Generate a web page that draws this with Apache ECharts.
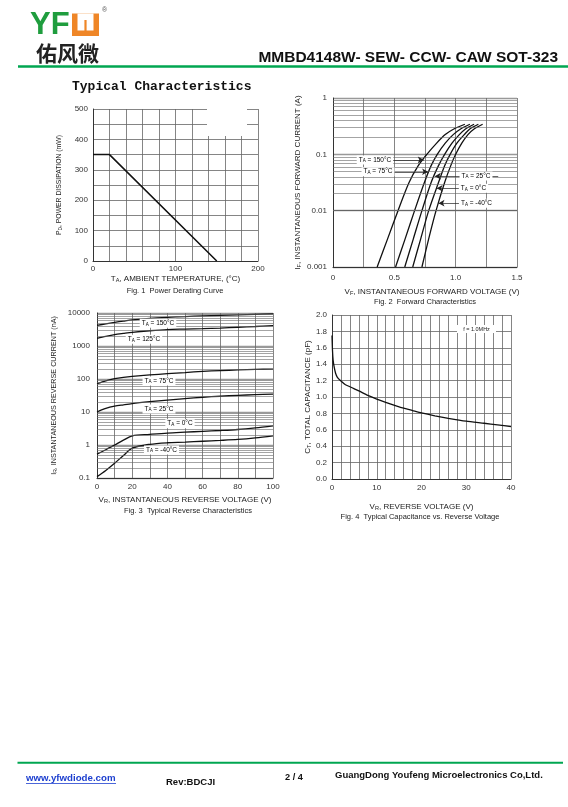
<!DOCTYPE html>
<html>
<head>
<meta charset="utf-8">
<script src="https://cdn.jsdelivr.net/npm/echarts@6/dist/echarts.min.js"></script>
<style>
  html, body { margin: 0; padding: 0; background: #fff; }
  #main { width: 568px; height: 807px; }
</style>
</head>
<body>
<div id="main"></div>
<script>
// Fig. 1 power derating curve
const derateTemp = [0, 20, 150];
const deratePower = [350, 350, 0];

// Fig. 2 forward characteristics: IF (A) levels and VF (V) read for each temperature
const fwdCurrent = [0.001, 0.00316, 0.01, 0.0316, 0.063, 0.1, 0.158, 0.224, 0.282, 0.342];
const fwdV150 = [0.36, 0.445, 0.53, 0.62, 0.695, 0.765, 0.845, 0.915, 0.985, 1.075];
const fwdV75 = [0.51, 0.588, 0.665, 0.745, 0.80, 0.85, 0.915, 0.98, 1.04, 1.116];
const fwdV25 = [0.585, 0.655, 0.725, 0.80, 0.86, 0.91, 0.97, 1.03, 1.08, 1.15];
const fwdV0 = [0.65, 0.715, 0.78, 0.86, 0.91, 0.955, 1.01, 1.07, 1.115, 1.185];
const fwdVM40 = [0.725, 0.78, 0.84, 0.91, 0.96, 1.0, 1.05, 1.10, 1.15, 1.22];
// label arrows: [from VF, to VF, IF]
const fwdArrows = [[0.474, 0.74, 0.08], [0.465, 0.775, 0.049], [1.347, 0.83, 0.041], [1.05, 0.845, 0.025], [1.05, 0.86, 0.0136]];

// Fig. 3 reverse characteristics, IR (nA) at each VR
const revVoltage = [0, 5, 10, 15, 20, 30, 40, 50, 60, 70, 80, 90, 100];
const rev150 = [4200, 4700, 5200, 5700, 6200, 6900, 7400, 7800, 8200, 8500, 8800, 9100, 9400];
const rev125 = [1700, 1950, 2200, 2400, 2600, 2900, 3150, 3250, 3350, 3500, 3700, 3900, 4150];
const rev75 = [72, 88, 102, 112, 120, 133, 145, 157, 170, 180, 188, 195, 200];
const rev25 = [10, 12.8, 15, 16.5, 18, 20.5, 23, 25.5, 28, 30, 32, 33.5, 35];
const rev0 = [0.53, 0.72, 1.0, 1.4, 1.9, 2.1, 2.3, 2.45, 2.6, 2.75, 2.95, 3.3, 3.8];
const revM40 = [0.11, 0.17, 0.28, 0.48, 0.8, 1.05, 1.17, 1.22, 1.3, 1.38, 1.48, 1.65, 1.9];

// Fig. 4 capacitance vs reverse voltage
const capVoltage = [0, 0.1, 0.25, 0.5, 0.8, 1.2, 2, 3, 4, 5, 6, 8, 10, 12, 15, 18, 20, 23, 26, 30, 34, 37, 40];
const capValue = [1.75, 1.58, 1.45, 1.36, 1.29, 1.24, 1.195, 1.15, 1.125, 1.10, 1.075, 1.02, 0.975, 0.935, 0.88, 0.835, 0.805, 0.77, 0.74, 0.705, 0.68, 0.66, 0.64];

const FONT = 'Liberation Sans';
const mkRich = size => ({
  n: { fontSize: size, fontFamily: FONT, color: '#222' },
  s: { fontSize: size * 0.7, fontFamily: FONT, color: '#222', verticalAlign: 'bottom' }
});
const rich = mkRich(8);
const richSmall = mkRich(6.5);
const sub = (a, b, c) => `{n|${a}}{s|${b}}{n|${c}}`;

// minor log grid lines
const mults = [2, 3, 4, 5, 6, 7, 8, 9];
const fwdMinor = [0.001, 0.01, 0.1].flatMap(d => mults.map(k => +(k * d).toPrecision(2)));
const revMinor = [0.1, 1, 10, 100, 1000].flatMap(d => mults.map(k => +(k * d).toPrecision(2)));

const chart = echarts.init(document.getElementById('main'));

function axisBase(extra) {
  return Object.assign({
    type: 'value',
    axisLine: { show: true, lineStyle: { color: '#333', width: 1 } },
    axisTick: { show: false },
    splitLine: { show: true, lineStyle: { color: '#666', width: 0.8 } },
    axisLabel: { fontSize: 8, fontFamily: FONT, color: '#333' },
    nameLocation: 'middle',
    nameTextStyle: { rich: rich }
  }, extra);
}

function curve(data, idx, extra) {
  return Object.assign({
    type: 'line', data: data, xAxisIndex: idx, yAxisIndex: idx,
    symbol: 'none', smooth: 0.3, silent: true,
    lineStyle: { color: '#111', width: 1.3 }
  }, extra);
}

function minorLines(values) {
  return {
    silent: true, symbol: ['none', 'none'], animation: false,
    label: { show: false },
    lineStyle: { color: '#666', width: 0.6, type: 'solid' },
    data: values.map(v => ({ yAxis: v }))
  };
}

function arrowLines(a) {
  return {
    silent: true, animation: false, symbol: ['none', 'arrow'], symbolSize: [5, 6],
    label: { show: false },
    lineStyle: { color: '#222', width: 0.7, type: 'solid' },
    data: [[{ coord: [a[0], a[2]] }, { coord: [a[1], a[2]] }]]
  };
}

function tag(x, y, a, b, c) {
  return {
    type: 'text', x: x, y: y, z: 100,
    style: {
      text: sub(a, b, c), rich: richSmall, align: 'center', verticalAlign: 'middle',
      backgroundColor: '#fff', padding: [1, 2]
    }
  };
}

function txt(x, y, text, font, fill, align) {
  return {
    type: 'text', x: x, y: y, z: 100,
    style: { text: text, font: font, fill: fill || '#111', align: align || 'left', verticalAlign: 'middle' }
  };
}

const logLabel = v => String(+Number(v).toPrecision(1));
const fwdPts = vs => vs.map((v, i) => [v, fwdCurrent[i]]);
const revPts = vals => revVoltage.map((v, i) => [v, vals[i]]);

const option = {
  animation: false,
  grid: [
    { left: 93, top: 109, width: 165, height: 152 },
    { left: 333, top: 98, width: 184, height: 169 },
    { left: 97, top: 313, width: 176, height: 165 },
    { left: 332, top: 315, width: 179, height: 164 }
  ],
  xAxis: [
    axisBase({ gridIndex: 0, min: 0, max: 200, interval: 20, nameGap: 14,
      name: sub('T', 'A', ', AMBIENT TEMPERATURE, (°C)'),
      axisLabel: { fontSize: 8, fontFamily: FONT, color: '#333', margin: 4, formatter: v => v % 100 === 0 ? String(v) : '' } }),
    axisBase({ gridIndex: 1, min: 0, max: 1.5, interval: 0.25, nameGap: 21,
      name: sub('V', 'F', ', INSTANTANEOUS FORWARD VOLTAGE (V)'),
      nameTextStyle: { rich: rich, padding: [0, 0, 0, 14] },
      axisLabel: { fontSize: 8, fontFamily: FONT, color: '#333', margin: 7,
        formatter: v => (Math.abs(v * 2 - Math.round(v * 2)) < 1e-6) ? (v === 0 ? '0' : v.toFixed(1)) : '' } }),
    axisBase({ gridIndex: 2, min: 0, max: 100, interval: 10, nameGap: 18,
      name: sub('V', 'R', ', INSTANTANEOUS REVERSE VOLTAGE (V)'),
      axisLabel: { fontSize: 8, fontFamily: FONT, color: '#333', margin: 5, formatter: v => v % 20 === 0 ? String(v) : '' } }),
    axisBase({ gridIndex: 3, min: 0, max: 40, interval: 2, nameGap: 24,
      name: sub('V', 'R', ', REVERSE VOLTAGE (V)'),
      axisLabel: { fontSize: 8, fontFamily: FONT, color: '#333', margin: 5, formatter: v => v % 10 === 0 ? String(v) : '' } })
  ],
  yAxis: [
    axisBase({ gridIndex: 0, min: 0, max: 500, interval: 50, nameGap: 30,
      name: sub('P', 'D', ', POWER DISSIPATION (mW)'),
      nameTextStyle: { rich: mkRich(6.8) },
      axisLabel: { fontSize: 8, fontFamily: FONT, color: '#333', margin: 5, formatter: v => v % 100 === 0 ? String(v) : '' } }),
    axisBase({ type: 'log', logBase: 10, gridIndex: 1, min: 0.001, max: 1, nameGap: 31,
      name: sub('I', 'F', ', INSTANTANEOUS FORWARD CURRENT (A)'),
      splitLine: { show: true, lineStyle: { color: '#999', width: 1.4 } },
      axisLabel: { fontSize: 8, fontFamily: FONT, color: '#333', margin: 6, formatter: logLabel } }),
    axisBase({ type: 'log', logBase: 10, gridIndex: 2, min: 0.1, max: 10000, nameGap: 39,
      name: sub('I', 'R', ', INSTANTANEOUS REVERSE CURRENT (nA)'),
      nameTextStyle: { rich: mkRich(7.2) },
      splitLine: { show: true, lineStyle: { color: '#999', width: 1.4 } },
      axisLabel: { fontSize: 8, fontFamily: FONT, color: '#333', margin: 7, formatter: logLabel } }),
    axisBase({ gridIndex: 3, min: 0, max: 2, interval: 0.2, nameGap: 20,
      name: sub('C', 'T', ', TOTAL CAPACITANCE (pF)'),
      axisLabel: { fontSize: 8, fontFamily: FONT, color: '#333', margin: 5, formatter: v => v.toFixed(1) } })
  ],
  series: [
    curve(derateTemp.map((t, i) => [t, deratePower[i]]), 0, { smooth: false, lineStyle: { color: '#111', width: 1.5 } }),

    curve(fwdPts(fwdV150), 1, { markLine: minorLines(fwdMinor) }),
    curve(fwdPts(fwdV150), 1, { lineStyle: { opacity: 0 }, markLine: arrowLines(fwdArrows[0]) }),
    curve(fwdPts(fwdV75), 1, { markLine: arrowLines(fwdArrows[1]) }),
    curve(fwdPts(fwdV25), 1, { markLine: arrowLines(fwdArrows[2]) }),
    curve(fwdPts(fwdV0), 1, { markLine: arrowLines(fwdArrows[3]) }),
    curve(fwdPts(fwdVM40), 1, { markLine: arrowLines(fwdArrows[4]) }),

    curve(revPts(rev150), 2, { markLine: minorLines(revMinor) }),
    curve(revPts(rev125), 2),
    curve(revPts(rev75), 2),
    curve(revPts(rev25), 2),
    curve(revPts(rev0), 2),
    curve(revPts(revM40), 2),

    curve(capVoltage.map((v, i) => [v, capValue[i]]), 3, { smooth: 0.2 })
  ],
  graphic: [
    // logo
    txt(30, 25, 'YF', 'bold 31px ' + FONT, '#1f9d3e'),
    { type: 'rect', z: 100, shape: { x: 72, y: 13.5, width: 27, height: 22.5 }, style: { fill: '#ef8627' } },
    { type: 'rect', z: 101, shape: { x: 77.5, y: 13.5, width: 16, height: 17 }, style: { fill: '#fff' } },
    { type: 'rect', z: 102, shape: { x: 84.4, y: 20, width: 2.2, height: 11 }, style: { fill: '#ef8627' } },
    txt(102, 10.5, '®', '7px ' + FONT, '#555'),
    txt(36, 53, '佑风微', 'bold 21px "Noto Sans CJK SC"', '#222'),
    txt(558, 58, 'MMBD4148W- SEW- CCW- CAW SOT-323', 'bold 15.5px ' + FONT, '#111', 'right'),
    { type: 'line', z: 100, shape: { x1: 18, y1: 66.5, x2: 568, y2: 66.5 }, style: { stroke: '#00a651', lineWidth: 2.3 } },
    txt(72, 87, 'Typical Characteristics', 'bold 13px "Liberation Mono"', '#111'),

    // captions
    txt(175, 291, 'Fig. 1  Power Derating Curve', '7.5px ' + FONT, '#222', 'center'),
    txt(425, 301.5, 'Fig. 2  Forward Characteristics', '7.5px ' + FONT, '#222', 'center'),
    txt(188, 511, 'Fig. 3  Typical Reverse Characteristics', '7.5px ' + FONT, '#222', 'center'),
    txt(420, 517, 'Fig. 4  Typical Capacitance vs. Reverse Voltage', '7.5px ' + FONT, '#222', 'center'),

    // blank patch on fig 1
    { type: 'rect', z: 100, shape: { x: 207, y: 108, width: 40, height: 28 }, style: { fill: '#fff' } },

    // fig 2 labels
    tag(375, 160, 'T', 'A', ' = 150°C'),
    tag(378, 171.7, 'T', 'A', ' = 75°C'),
    tag(476, 176, 'T', 'A', ' = 25°C'),
    tag(473.5, 188.3, 'T', 'A', ' = 0°C'),
    tag(476.5, 203.3, 'T', 'A', ' = -40°C'),

    // fig 3 labels
    tag(158, 323.3, 'T', 'A', ' = 150°C'),
    tag(144, 339.3, 'T', 'A', ' = 125°C'),
    tag(159, 381, 'T', 'A', ' = 75°C'),
    tag(159, 409, 'T', 'A', ' = 25°C'),
    tag(180, 423.7, 'T', 'A', ' = 0°C'),
    tag(161.5, 450, 'T', 'A', ' = -40°C'),

    // fig 4 note
    { type: 'rect', z: 100, shape: { x: 457, y: 325, width: 39, height: 8 }, style: { fill: '#fff' } },
    txt(476.5, 329, 'f = 1.0MHz', '5.5px ' + FONT, '#222', 'center'),

    // footer
    { type: 'line', z: 100, shape: { x1: 17.5, y1: 762.7, x2: 563, y2: 762.7 }, style: { stroke: '#00a651', lineWidth: 2 } },
    txt(26, 778, 'www.yfwdiode.com', 'bold 9.7px ' + FONT, '#1d3fcf'),
    { type: 'line', z: 100, shape: { x1: 26, y1: 783.5, x2: 116, y2: 783.5 }, style: { stroke: '#1d3fcf', lineWidth: 0.8 } },
    txt(166, 782.5, 'Rev:BDCJI', 'bold 9.5px ' + FONT, '#111'),
    txt(285, 777, '2 / 4', 'bold 9.2px ' + FONT, '#111'),
    txt(335, 775.5, 'GuangDong Youfeng Microelectronics Co,Ltd.', 'bold 9.5px ' + FONT, '#111')
  ]
};

chart.setOption(option);
</script>
</body>
</html>
